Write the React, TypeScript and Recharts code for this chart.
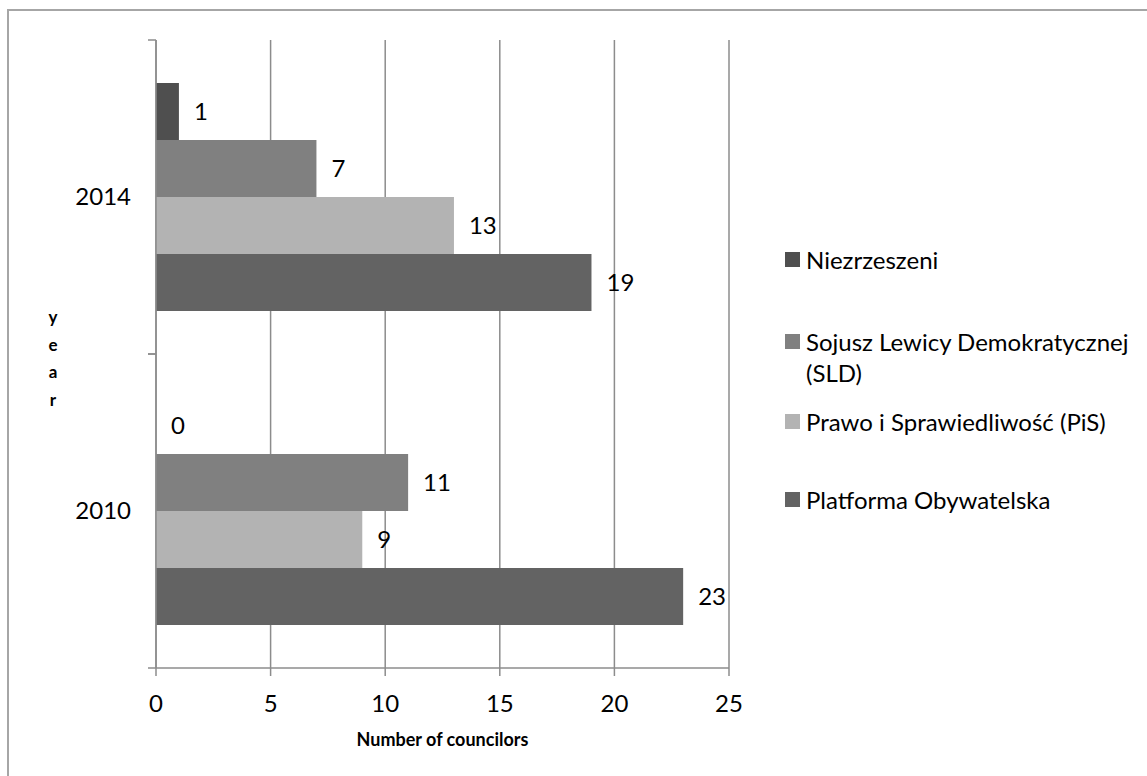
import React from "react";
import { BarChart, Bar, XAxis, YAxis, CartesianGrid, Legend, LabelList, Label } from "recharts";

const years = ["2014", "2010"];
const niezrzeszeni = [1, 0];
const sld = [7, 11];
const pis = [13, 9];
const po = [19, 23];
const xTicks = [0, 5, 10, 15, 20, 25];

const seriesKeys = ["niez", "sld", "pis", "po"];
const seriesNames = [
  "Niezrzeszeni",
  "Sojusz Lewicy Demokratycznej (SLD)",
  "Prawo i Sprawiedliwość (PiS)",
  "Platforma Obywatelska",
];
const seriesColors = ["#4f4f4f", "#808080", "#b3b3b3", "#636363"];

const data = years.map((y, i) => ({
  year: y,
  niez: niezrzeszeni[i],
  sld: sld[i],
  pis: pis[i],
  po: po[i],
}));

const FONT = "Lato, 'Open Sans', sans-serif";
const AXIS_COLOR = "#8c8c8c";
const Y_TICK_SIZE = 8;
const Y_TICK_MARGIN = 17;

const YTick = (props: any) => {
  const { x, y, payload } = props;
  const axisX = x + Y_TICK_SIZE + Y_TICK_MARGIN;
  const half = payload && payload.offset ? payload.offset : 0;
  return (
    <g>
      <text x={x} y={y} dy="0.33em" textAnchor="end" fill="#000" fontSize={24} fontFamily={FONT}>
        {payload.value}
      </text>
      <line x1={axisX - Y_TICK_SIZE} x2={axisX} y1={y - half} y2={y - half} stroke={AXIS_COLOR} strokeWidth={1.5} />
      <line x1={axisX - Y_TICK_SIZE} x2={axisX} y1={y + half} y2={y + half} stroke={AXIS_COLOR} strokeWidth={1.5} />
    </g>
  );
};

const LEGEND_ROW_TOPS = [4, 86, 166, 244];

const LegendContent = () => {
  return (
    <div style={{ position: "relative", width: 362, height: 290, fontFamily: FONT }}>
      {seriesNames.map((name, i) => (
        <div
          key={name}
          style={{ position: "absolute", left: 0, top: LEGEND_ROW_TOPS[i], display: "flex", alignItems: "flex-start" }}
        >
          <span style={{ width: 15, height: 15, background: seriesColors[i], marginTop: 8, marginRight: 6, flex: "none" }} />
          <span style={{ fontSize: 24, lineHeight: "31px", width: 340, color: "#000" }}>{name}</span>
        </div>
      ))}
    </div>
  );
};

const XTitle = (props: any) => {
  const { viewBox } = props;
  return (
    <text
      x={viewBox.x + viewBox.width / 2}
      y={viewBox.y + 71}
      textAnchor="middle"
      dominantBaseline="central"
      fontWeight={700}
      fontSize={18}
      fontFamily={FONT}
      fill="#000"
    >
      Number of councilors
    </text>
  );
};

const YTitle = (props: any) => {
  const { viewBox } = props;
  const letters = "year".split("");
  const cy = viewBox.y + viewBox.height / 2 + 4;
  return (
    <g>
      {letters.map((ch, i) => (
        <text
          key={i}
          x={53}
          y={cy + (i - 1.5) * 27.8}
          textAnchor="middle"
          dominantBaseline="central"
          fontWeight={700}
          fontSize={17}
          fontFamily={FONT}
          fill="#000"
        >
          {ch}
        </text>
      ))}
    </g>
  );
};

export default function App() {
  return (
    <div style={{ position: "absolute", left: 0, top: 0, width: 1147, height: 776, overflow: "hidden", background: "#fff" }}>
      <div
        style={{
          position: "absolute",
          left: 7,
          top: 9,
          width: 1300,
          height: 900,
          borderTop: "2px solid #a6a6a6",
          borderLeft: "2px solid #a6a6a6",
        }}
      />
      <div style={{ position: "absolute", left: 0, top: 0 }}>
        <BarChart
          width={1147}
          height={776}
          data={data}
          layout="vertical"
          margin={{ top: 40, right: 418, bottom: 0, left: 0 }}
          barCategoryGap="13.7%"
          barGap={0}
        >
          <CartesianGrid horizontal={false} vertical={true} stroke={AXIS_COLOR} strokeWidth={1.5} />
          <XAxis
            type="number"
            domain={[0, 25]}
            ticks={xTicks}
            interval={0}
            height={108}
            tickSize={8}
            tickMargin={19}
            axisLine={{ stroke: AXIS_COLOR, strokeWidth: 1.5 }}
            tickLine={{ stroke: AXIS_COLOR, strokeWidth: 1.5 }}
            tick={{ fill: "#000", fontSize: 24, fontFamily: FONT }}
          >
            <Label content={<XTitle />} position="bottom" />
          </XAxis>
          <YAxis
            type="category"
            dataKey="year"
            width={156}
            tickSize={Y_TICK_SIZE}
            tickMargin={Y_TICK_MARGIN}
            tickLine={false}
            axisLine={{ stroke: AXIS_COLOR, strokeWidth: 1.5 }}
            tick={<YTick />}
            interval={0}
          >
            <Label content={<YTitle />} position="left" />
          </YAxis>
          <Legend
            layout="horizontal"
            verticalAlign="middle"
            align="center"
            content={<LegendContent />}
            wrapperStyle={{ left: 785, top: 240, width: 362, height: 290 }}
          />
          {seriesKeys.map((key, i) => (
            <Bar
              key={key}
              dataKey={key}
              name={seriesNames[i]}
              fill={seriesColors[i]}
              minPointSize={0.01}
              isAnimationActive={false}
            >
              <LabelList
                dataKey={key}
                position="right"
                offset={15}
                fill="#000"
                fontSize={24}
                fontFamily={FONT}
              />
            </Bar>
          ))}
        </BarChart>
      </div>
    </div>
  );
}
